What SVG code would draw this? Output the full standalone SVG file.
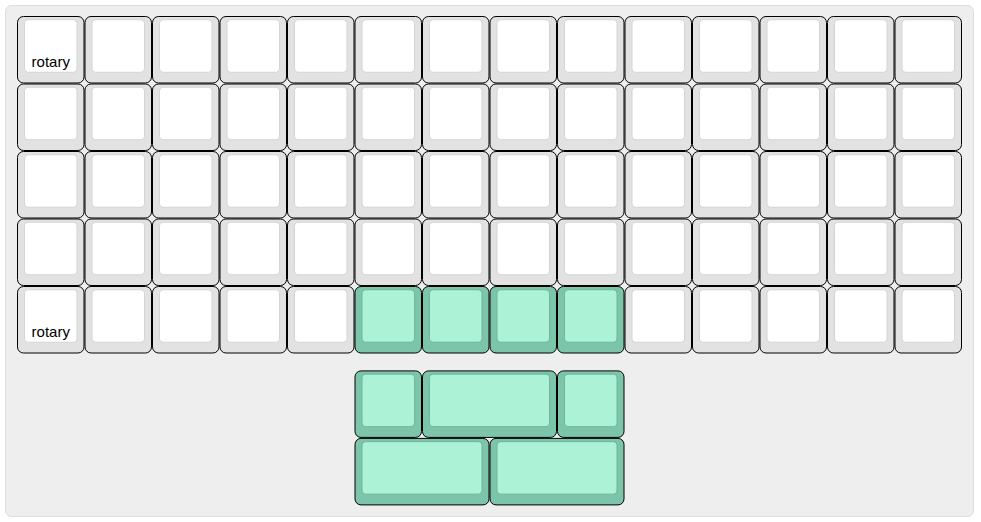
<svg xmlns="http://www.w3.org/2000/svg" width="981" height="522" viewBox="0 0 981 522">
<style>
.o{fill:#e2e2e2;stroke:#000;stroke-width:1}
.i{fill:#fff;stroke:#d4d4d4;stroke-width:1}
.g .o{fill:#7dc5aa}
.g .i{fill:#abf2d6;stroke:#6fb69a}
.t{font-family:"Liberation Sans",Arial,sans-serif;font-size:15px;fill:#000;text-anchor:middle}
</style>
<rect x="5.5" y="5.5" width="968" height="511" rx="6" fill="#eeeeee" stroke="#dddddd"/>
<g id="keys">
<g id="k0-0" transform="translate(17,16)"><rect class="o" x=".5" y=".5" width="66.5" height="66.5" rx="6"/><rect class="i" x="7.5" y="3.75" width="52.5" height="52.5" rx="3.5"/><text class="t" x="33.75" y="50.5">rotary</text></g>
<g id="k0-1" transform="translate(84.5,16)"><rect class="o" x=".5" y=".5" width="66.5" height="66.5" rx="6"/><rect class="i" x="7.5" y="3.75" width="52.5" height="52.5" rx="3.5"/></g>
<g id="k0-2" transform="translate(152,16)"><rect class="o" x=".5" y=".5" width="66.5" height="66.5" rx="6"/><rect class="i" x="7.5" y="3.75" width="52.5" height="52.5" rx="3.5"/></g>
<g id="k0-3" transform="translate(219.5,16)"><rect class="o" x=".5" y=".5" width="66.5" height="66.5" rx="6"/><rect class="i" x="7.5" y="3.75" width="52.5" height="52.5" rx="3.5"/></g>
<g id="k0-4" transform="translate(287,16)"><rect class="o" x=".5" y=".5" width="66.5" height="66.5" rx="6"/><rect class="i" x="7.5" y="3.75" width="52.5" height="52.5" rx="3.5"/></g>
<g id="k0-5" transform="translate(354.5,16)"><rect class="o" x=".5" y=".5" width="66.5" height="66.5" rx="6"/><rect class="i" x="7.5" y="3.75" width="52.5" height="52.5" rx="3.5"/></g>
<g id="k0-6" transform="translate(422,16)"><rect class="o" x=".5" y=".5" width="66.5" height="66.5" rx="6"/><rect class="i" x="7.5" y="3.75" width="52.5" height="52.5" rx="3.5"/></g>
<g id="k0-7" transform="translate(489.5,16)"><rect class="o" x=".5" y=".5" width="66.5" height="66.5" rx="6"/><rect class="i" x="7.5" y="3.75" width="52.5" height="52.5" rx="3.5"/></g>
<g id="k0-8" transform="translate(557,16)"><rect class="o" x=".5" y=".5" width="66.5" height="66.5" rx="6"/><rect class="i" x="7.5" y="3.75" width="52.5" height="52.5" rx="3.5"/></g>
<g id="k0-9" transform="translate(624.5,16)"><rect class="o" x=".5" y=".5" width="66.5" height="66.5" rx="6"/><rect class="i" x="7.5" y="3.75" width="52.5" height="52.5" rx="3.5"/></g>
<g id="k0-10" transform="translate(692,16)"><rect class="o" x=".5" y=".5" width="66.5" height="66.5" rx="6"/><rect class="i" x="7.5" y="3.75" width="52.5" height="52.5" rx="3.5"/></g>
<g id="k0-11" transform="translate(759.5,16)"><rect class="o" x=".5" y=".5" width="66.5" height="66.5" rx="6"/><rect class="i" x="7.5" y="3.75" width="52.5" height="52.5" rx="3.5"/></g>
<g id="k0-12" transform="translate(827,16)"><rect class="o" x=".5" y=".5" width="66.5" height="66.5" rx="6"/><rect class="i" x="7.5" y="3.75" width="52.5" height="52.5" rx="3.5"/></g>
<g id="k0-13" transform="translate(894.5,16)"><rect class="o" x=".5" y=".5" width="66.5" height="66.5" rx="6"/><rect class="i" x="7.5" y="3.75" width="52.5" height="52.5" rx="3.5"/></g>

<g id="k1-0" transform="translate(17,83.5)"><rect class="o" x=".5" y=".5" width="66.5" height="66.5" rx="6"/><rect class="i" x="7.5" y="3.75" width="52.5" height="52.5" rx="3.5"/></g>
<g id="k1-1" transform="translate(84.5,83.5)"><rect class="o" x=".5" y=".5" width="66.5" height="66.5" rx="6"/><rect class="i" x="7.5" y="3.75" width="52.5" height="52.5" rx="3.5"/></g>
<g id="k1-2" transform="translate(152,83.5)"><rect class="o" x=".5" y=".5" width="66.5" height="66.5" rx="6"/><rect class="i" x="7.5" y="3.75" width="52.5" height="52.5" rx="3.5"/></g>
<g id="k1-3" transform="translate(219.5,83.5)"><rect class="o" x=".5" y=".5" width="66.5" height="66.5" rx="6"/><rect class="i" x="7.5" y="3.75" width="52.5" height="52.5" rx="3.5"/></g>
<g id="k1-4" transform="translate(287,83.5)"><rect class="o" x=".5" y=".5" width="66.5" height="66.5" rx="6"/><rect class="i" x="7.5" y="3.75" width="52.5" height="52.5" rx="3.5"/></g>
<g id="k1-5" transform="translate(354.5,83.5)"><rect class="o" x=".5" y=".5" width="66.5" height="66.5" rx="6"/><rect class="i" x="7.5" y="3.75" width="52.5" height="52.5" rx="3.5"/></g>
<g id="k1-6" transform="translate(422,83.5)"><rect class="o" x=".5" y=".5" width="66.5" height="66.5" rx="6"/><rect class="i" x="7.5" y="3.75" width="52.5" height="52.5" rx="3.5"/></g>
<g id="k1-7" transform="translate(489.5,83.5)"><rect class="o" x=".5" y=".5" width="66.5" height="66.5" rx="6"/><rect class="i" x="7.5" y="3.75" width="52.5" height="52.5" rx="3.5"/></g>
<g id="k1-8" transform="translate(557,83.5)"><rect class="o" x=".5" y=".5" width="66.5" height="66.5" rx="6"/><rect class="i" x="7.5" y="3.75" width="52.5" height="52.5" rx="3.5"/></g>
<g id="k1-9" transform="translate(624.5,83.5)"><rect class="o" x=".5" y=".5" width="66.5" height="66.5" rx="6"/><rect class="i" x="7.5" y="3.75" width="52.5" height="52.5" rx="3.5"/></g>
<g id="k1-10" transform="translate(692,83.5)"><rect class="o" x=".5" y=".5" width="66.5" height="66.5" rx="6"/><rect class="i" x="7.5" y="3.75" width="52.5" height="52.5" rx="3.5"/></g>
<g id="k1-11" transform="translate(759.5,83.5)"><rect class="o" x=".5" y=".5" width="66.5" height="66.5" rx="6"/><rect class="i" x="7.5" y="3.75" width="52.5" height="52.5" rx="3.5"/></g>
<g id="k1-12" transform="translate(827,83.5)"><rect class="o" x=".5" y=".5" width="66.5" height="66.5" rx="6"/><rect class="i" x="7.5" y="3.75" width="52.5" height="52.5" rx="3.5"/></g>
<g id="k1-13" transform="translate(894.5,83.5)"><rect class="o" x=".5" y=".5" width="66.5" height="66.5" rx="6"/><rect class="i" x="7.5" y="3.75" width="52.5" height="52.5" rx="3.5"/></g>

<g id="k2-0" transform="translate(17,151)"><rect class="o" x=".5" y=".5" width="66.5" height="66.5" rx="6"/><rect class="i" x="7.5" y="3.75" width="52.5" height="52.5" rx="3.5"/></g>
<g id="k2-1" transform="translate(84.5,151)"><rect class="o" x=".5" y=".5" width="66.5" height="66.5" rx="6"/><rect class="i" x="7.5" y="3.75" width="52.5" height="52.5" rx="3.5"/></g>
<g id="k2-2" transform="translate(152,151)"><rect class="o" x=".5" y=".5" width="66.5" height="66.5" rx="6"/><rect class="i" x="7.5" y="3.75" width="52.5" height="52.5" rx="3.5"/></g>
<g id="k2-3" transform="translate(219.5,151)"><rect class="o" x=".5" y=".5" width="66.5" height="66.5" rx="6"/><rect class="i" x="7.5" y="3.75" width="52.5" height="52.5" rx="3.5"/></g>
<g id="k2-4" transform="translate(287,151)"><rect class="o" x=".5" y=".5" width="66.5" height="66.5" rx="6"/><rect class="i" x="7.5" y="3.75" width="52.5" height="52.5" rx="3.5"/></g>
<g id="k2-5" transform="translate(354.5,151)"><rect class="o" x=".5" y=".5" width="66.5" height="66.5" rx="6"/><rect class="i" x="7.5" y="3.75" width="52.5" height="52.5" rx="3.5"/></g>
<g id="k2-6" transform="translate(422,151)"><rect class="o" x=".5" y=".5" width="66.5" height="66.5" rx="6"/><rect class="i" x="7.5" y="3.75" width="52.5" height="52.5" rx="3.5"/></g>
<g id="k2-7" transform="translate(489.5,151)"><rect class="o" x=".5" y=".5" width="66.5" height="66.5" rx="6"/><rect class="i" x="7.5" y="3.75" width="52.5" height="52.5" rx="3.5"/></g>
<g id="k2-8" transform="translate(557,151)"><rect class="o" x=".5" y=".5" width="66.5" height="66.5" rx="6"/><rect class="i" x="7.5" y="3.75" width="52.5" height="52.5" rx="3.5"/></g>
<g id="k2-9" transform="translate(624.5,151)"><rect class="o" x=".5" y=".5" width="66.5" height="66.5" rx="6"/><rect class="i" x="7.5" y="3.75" width="52.5" height="52.5" rx="3.5"/></g>
<g id="k2-10" transform="translate(692,151)"><rect class="o" x=".5" y=".5" width="66.5" height="66.5" rx="6"/><rect class="i" x="7.5" y="3.75" width="52.5" height="52.5" rx="3.5"/></g>
<g id="k2-11" transform="translate(759.5,151)"><rect class="o" x=".5" y=".5" width="66.5" height="66.5" rx="6"/><rect class="i" x="7.5" y="3.75" width="52.5" height="52.5" rx="3.5"/></g>
<g id="k2-12" transform="translate(827,151)"><rect class="o" x=".5" y=".5" width="66.5" height="66.5" rx="6"/><rect class="i" x="7.5" y="3.75" width="52.5" height="52.5" rx="3.5"/></g>
<g id="k2-13" transform="translate(894.5,151)"><rect class="o" x=".5" y=".5" width="66.5" height="66.5" rx="6"/><rect class="i" x="7.5" y="3.75" width="52.5" height="52.5" rx="3.5"/></g>

<g id="k3-0" transform="translate(17,218.5)"><rect class="o" x=".5" y=".5" width="66.5" height="66.5" rx="6"/><rect class="i" x="7.5" y="3.75" width="52.5" height="52.5" rx="3.5"/></g>
<g id="k3-1" transform="translate(84.5,218.5)"><rect class="o" x=".5" y=".5" width="66.5" height="66.5" rx="6"/><rect class="i" x="7.5" y="3.75" width="52.5" height="52.5" rx="3.5"/></g>
<g id="k3-2" transform="translate(152,218.5)"><rect class="o" x=".5" y=".5" width="66.5" height="66.5" rx="6"/><rect class="i" x="7.5" y="3.75" width="52.5" height="52.5" rx="3.5"/></g>
<g id="k3-3" transform="translate(219.5,218.5)"><rect class="o" x=".5" y=".5" width="66.5" height="66.5" rx="6"/><rect class="i" x="7.5" y="3.75" width="52.5" height="52.5" rx="3.5"/></g>
<g id="k3-4" transform="translate(287,218.5)"><rect class="o" x=".5" y=".5" width="66.5" height="66.5" rx="6"/><rect class="i" x="7.5" y="3.75" width="52.5" height="52.5" rx="3.5"/></g>
<g id="k3-5" transform="translate(354.5,218.5)"><rect class="o" x=".5" y=".5" width="66.5" height="66.5" rx="6"/><rect class="i" x="7.5" y="3.75" width="52.5" height="52.5" rx="3.5"/></g>
<g id="k3-6" transform="translate(422,218.5)"><rect class="o" x=".5" y=".5" width="66.5" height="66.5" rx="6"/><rect class="i" x="7.5" y="3.75" width="52.5" height="52.5" rx="3.5"/></g>
<g id="k3-7" transform="translate(489.5,218.5)"><rect class="o" x=".5" y=".5" width="66.5" height="66.5" rx="6"/><rect class="i" x="7.5" y="3.75" width="52.5" height="52.5" rx="3.5"/></g>
<g id="k3-8" transform="translate(557,218.5)"><rect class="o" x=".5" y=".5" width="66.5" height="66.5" rx="6"/><rect class="i" x="7.5" y="3.75" width="52.5" height="52.5" rx="3.5"/></g>
<g id="k3-9" transform="translate(624.5,218.5)"><rect class="o" x=".5" y=".5" width="66.5" height="66.5" rx="6"/><rect class="i" x="7.5" y="3.75" width="52.5" height="52.5" rx="3.5"/></g>
<g id="k3-10" transform="translate(692,218.5)"><rect class="o" x=".5" y=".5" width="66.5" height="66.5" rx="6"/><rect class="i" x="7.5" y="3.75" width="52.5" height="52.5" rx="3.5"/></g>
<g id="k3-11" transform="translate(759.5,218.5)"><rect class="o" x=".5" y=".5" width="66.5" height="66.5" rx="6"/><rect class="i" x="7.5" y="3.75" width="52.5" height="52.5" rx="3.5"/></g>
<g id="k3-12" transform="translate(827,218.5)"><rect class="o" x=".5" y=".5" width="66.5" height="66.5" rx="6"/><rect class="i" x="7.5" y="3.75" width="52.5" height="52.5" rx="3.5"/></g>
<g id="k3-13" transform="translate(894.5,218.5)"><rect class="o" x=".5" y=".5" width="66.5" height="66.5" rx="6"/><rect class="i" x="7.5" y="3.75" width="52.5" height="52.5" rx="3.5"/></g>

<g id="k4-0" transform="translate(17,286)"><rect class="o" x=".5" y=".5" width="66.5" height="66.5" rx="6"/><rect class="i" x="7.5" y="3.75" width="52.5" height="52.5" rx="3.5"/><text class="t" x="33.75" y="50.5">rotary</text></g>
<g id="k4-1" transform="translate(84.5,286)"><rect class="o" x=".5" y=".5" width="66.5" height="66.5" rx="6"/><rect class="i" x="7.5" y="3.75" width="52.5" height="52.5" rx="3.5"/></g>
<g id="k4-2" transform="translate(152,286)"><rect class="o" x=".5" y=".5" width="66.5" height="66.5" rx="6"/><rect class="i" x="7.5" y="3.75" width="52.5" height="52.5" rx="3.5"/></g>
<g id="k4-3" transform="translate(219.5,286)"><rect class="o" x=".5" y=".5" width="66.5" height="66.5" rx="6"/><rect class="i" x="7.5" y="3.75" width="52.5" height="52.5" rx="3.5"/></g>
<g id="k4-4" transform="translate(287,286)"><rect class="o" x=".5" y=".5" width="66.5" height="66.5" rx="6"/><rect class="i" x="7.5" y="3.75" width="52.5" height="52.5" rx="3.5"/></g>
<g id="k4-5" class="g" transform="translate(354.5,286)"><rect class="o" x=".5" y=".5" width="66.5" height="66.5" rx="6"/><rect class="i" x="7.5" y="3.75" width="52.5" height="52.5" rx="3.5"/></g>
<g id="k4-6" class="g" transform="translate(422,286)"><rect class="o" x=".5" y=".5" width="66.5" height="66.5" rx="6"/><rect class="i" x="7.5" y="3.75" width="52.5" height="52.5" rx="3.5"/></g>
<g id="k4-7" class="g" transform="translate(489.5,286)"><rect class="o" x=".5" y=".5" width="66.5" height="66.5" rx="6"/><rect class="i" x="7.5" y="3.75" width="52.5" height="52.5" rx="3.5"/></g>
<g id="k4-8" class="g" transform="translate(557,286)"><rect class="o" x=".5" y=".5" width="66.5" height="66.5" rx="6"/><rect class="i" x="7.5" y="3.75" width="52.5" height="52.5" rx="3.5"/></g>
<g id="k4-9" transform="translate(624.5,286)"><rect class="o" x=".5" y=".5" width="66.5" height="66.5" rx="6"/><rect class="i" x="7.5" y="3.75" width="52.5" height="52.5" rx="3.5"/></g>
<g id="k4-10" transform="translate(692,286)"><rect class="o" x=".5" y=".5" width="66.5" height="66.5" rx="6"/><rect class="i" x="7.5" y="3.75" width="52.5" height="52.5" rx="3.5"/></g>
<g id="k4-11" transform="translate(759.5,286)"><rect class="o" x=".5" y=".5" width="66.5" height="66.5" rx="6"/><rect class="i" x="7.5" y="3.75" width="52.5" height="52.5" rx="3.5"/></g>
<g id="k4-12" transform="translate(827,286)"><rect class="o" x=".5" y=".5" width="66.5" height="66.5" rx="6"/><rect class="i" x="7.5" y="3.75" width="52.5" height="52.5" rx="3.5"/></g>
<g id="k4-13" transform="translate(894.5,286)"><rect class="o" x=".5" y=".5" width="66.5" height="66.5" rx="6"/><rect class="i" x="7.5" y="3.75" width="52.5" height="52.5" rx="3.5"/></g>

<g id="t0-0" class="g" transform="translate(354.5,370.4)"><rect class="o" x=".5" y=".5" width="66.5" height="66.5" rx="6"/><rect class="i" x="7.5" y="3.75" width="52.5" height="52.5" rx="3.5"/></g>
<g id="t0-1" class="g" transform="translate(422,370.4)"><rect class="o" x=".5" y=".5" width="134" height="66.5" rx="6"/><rect class="i" x="7.5" y="3.75" width="120" height="52.5" rx="3.5"/></g>
<g id="t0-2" class="g" transform="translate(557,370.4)"><rect class="o" x=".5" y=".5" width="66.5" height="66.5" rx="6"/><rect class="i" x="7.5" y="3.75" width="52.5" height="52.5" rx="3.5"/></g>
<g id="t1-0" class="g" transform="translate(354.5,437.9)"><rect class="o" x=".5" y=".5" width="134" height="66.5" rx="6"/><rect class="i" x="7.5" y="3.75" width="120" height="52.5" rx="3.5"/></g>
<g id="t1-1" class="g" transform="translate(489.5,437.9)"><rect class="o" x=".5" y=".5" width="134" height="66.5" rx="6"/><rect class="i" x="7.5" y="3.75" width="120" height="52.5" rx="3.5"/></g>
</g>
</svg>
